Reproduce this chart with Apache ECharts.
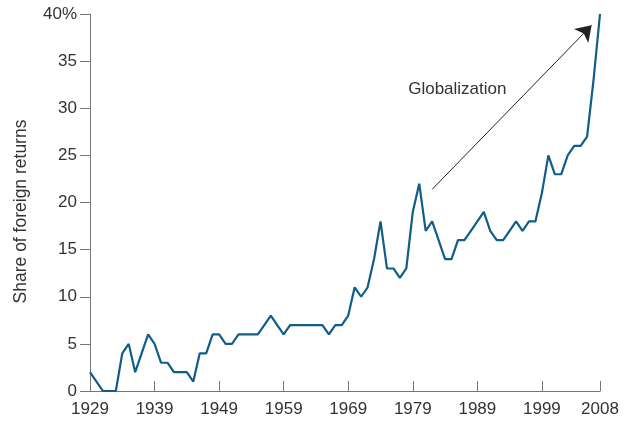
<!DOCTYPE html>
<html>
<head>
<meta charset="utf-8">
<script src="https://cdn.jsdelivr.net/npm/echarts@6/dist/echarts.min.js"></script>
<style>
  html, body { margin: 0; padding: 0; background: #fff; }
  #chart { width: 629px; height: 429px; }
</style>
</head>
<body>
<div id="chart"></div>
<script>
// years on the x axis
const years = [];
for (let y = 1929; y <= 2008; y++) years.push(y);

// share of foreign returns, %
const shares = [
  2, 1, 0, 0, 0, 4, 5, 2, 4, 6,      // 1929-1938
  5, 3, 3, 2, 2, 2, 1, 4, 4, 6,      // 1939-1948
  6, 5, 5, 6, 6, 6, 6, 7, 8, 7,      // 1949-1958
  6, 7, 7, 7, 7, 7, 7, 6, 7, 7,      // 1959-1968
  8, 11, 10, 11, 14, 18, 13, 13, 12, 13, // 1969-1978
  19, 22, 17, 18, 16, 14, 14, 16, 16, 17, // 1979-1988
  18, 19, 17, 16, 16, 17, 18, 17, 18, 18, // 1989-1998
  21, 25, 23, 23, 25, 26, 26, 27, 33, 40  // 1999-2008
];

const xTicks = [1929, 1939, 1949, 1959, 1969, 1979, 1989, 1999, 2008];

// annotation
const arrowFrom = [1982, 21.4];
const arrowTo = [2006.7, 38.8];
const noteText = 'Globalization';
const notePos = [1985.9, 32];

const font = 'Liberation Sans, Arial, sans-serif';

const chart = echarts.init(document.getElementById('chart'));

const option = {
  animation: false,
  grid: { left: 90, right: 29, top: 14, bottom: 38 },
  xAxis: {
    type: 'value',
    min: 1929,
    max: 2008,
    axisLine: { lineStyle: { color: '#777', width: 1 } },
    axisTick: {
      show: true,
      inside: true,
      length: 10,
      customValues: xTicks,
      lineStyle: { color: '#777' }
    },
    axisLabel: {
      customValues: xTicks,
      color: '#333',
      fontSize: 17,
      fontFamily: font,
      margin: 10,
      formatter: v => String(v)
    },
    splitLine: { show: false }
  },
  yAxis: {
    type: 'value',
    min: 0,
    max: 40,
    interval: 5,
    name: 'Share of foreign returns',
    nameLocation: 'middle',
    nameGap: 60,
    nameTextStyle: {
      color: '#333',
      fontSize: 17.5,
      fontFamily: font,
      padding: [0, 18, 0, 0]
    },
    axisLine: { show: true, lineStyle: { color: '#777', width: 1 } },
    axisTick: { show: true, length: 10, lineStyle: { color: '#777' } },
    axisLabel: {
      color: '#333',
      fontSize: 17,
      fontFamily: font,
      margin: 13,
      formatter: v => (v === 40 ? '40%' : String(v))
    },
    splitLine: { show: false }
  },
  series: [{
    type: 'line',
    data: years.map((y, i) => [y, shares[i]]),
    symbol: 'none',
    lineStyle: { color: '#115d8a', width: 2.2 },
    markLine: {
      silent: true,
      symbol: ['none', 'arrow'],
      symbolSize: 15,
      lineStyle: { color: '#222', width: 1, type: 'solid' },
      label: { show: false },
      data: [[{ coord: arrowFrom }, { coord: arrowTo }]]
    },
    markPoint: {
      silent: true,
      symbol: 'circle',
      symbolSize: 0,
      label: {
        show: true,
        position: 'inside',
        formatter: noteText,
        color: '#333',
        fontSize: 17,
        fontFamily: font
      },
      data: [{ coord: notePos }]
    }
  }]
};

chart.setOption(option);
</script>
</body>
</html>
